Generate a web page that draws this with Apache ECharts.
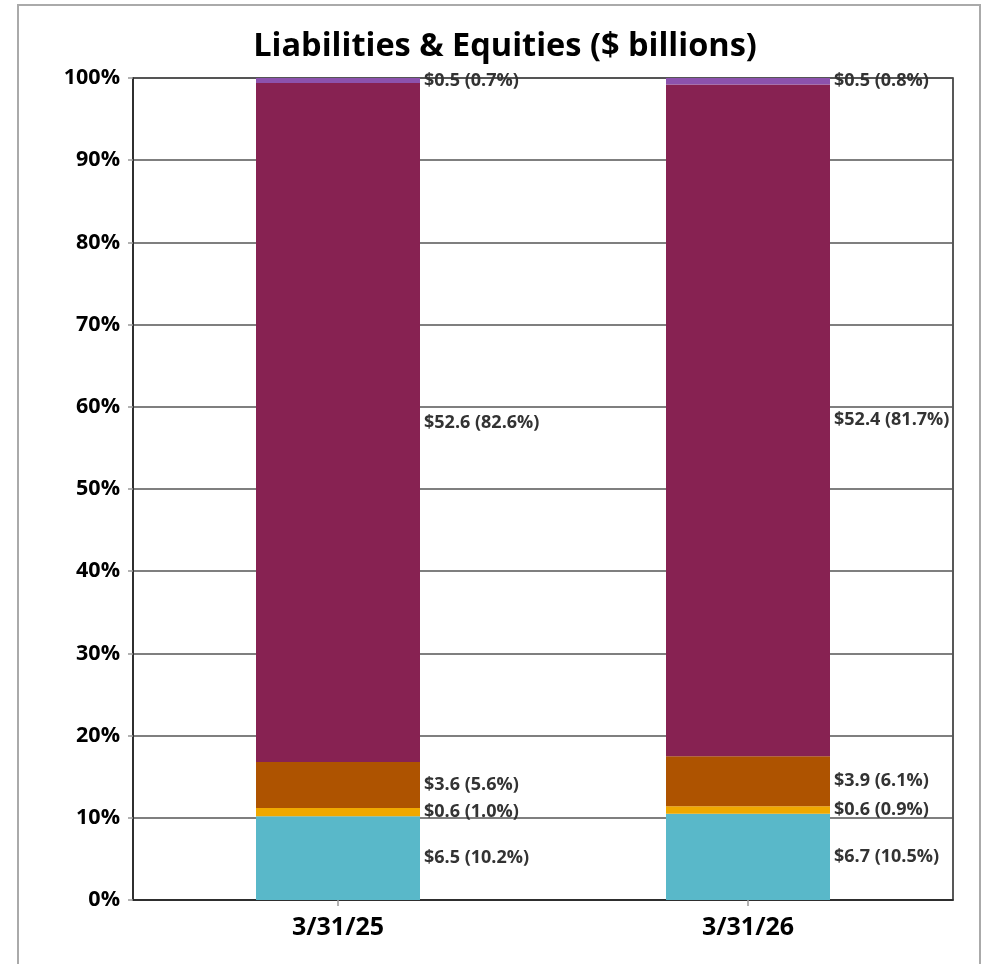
<!DOCTYPE html>
<html>
<head>
<meta charset="utf-8">
<script src="https://cdn.jsdelivr.net/npm/echarts@6/dist/echarts.min.js"></script>
<style>
  html, body { margin: 0; padding: 0; background: #fff; }
  #chart { width: 987px; height: 964px; }
</style>
</head>
<body>
<div id="chart"></div>
<script>
// categories (balance sheet dates)
const categories = ['3/31/25', '3/31/26'];
const yTicks = [0, 10, 20, 30, 40, 50, 60, 70, 80, 90, 100];

// $ billions per segment, bottom to top
const amtTeal   = [6.5, 6.7];
const amtYellow = [0.6, 0.6];
const amtOrange = [3.6, 3.9];
const amtMaroon = [52.6, 52.4];
const amtPurple = [0.5, 0.5];

// share of total (%), bottom to top
const pctTeal   = [10.2, 10.5];
const pctYellow = [1.0, 0.9];
const pctOrange = [5.6, 6.1];
const pctMaroon = [82.6, 81.7];
const pctPurple = [0.7, 0.8];

const colors = ['#59b8c9', '#f0a800', '#ae5300', '#872252', '#8c52ad'];

const layers = [
  { amt: amtTeal, pct: pctTeal },
  { amt: amtYellow, pct: pctYellow },
  { amt: amtOrange, pct: pctOrange },
  { amt: amtMaroon, pct: pctMaroon },
  { amt: amtPurple, pct: pctPurple },
];

const font = '"Open Sans", "Noto Sans", sans-serif';

const myChart = echarts.init(document.getElementById('chart'));

const series = layers.map((l, i) => ({
  type: 'bar',
  stack: 'total',
  barWidth: '40%',
  data: l.pct,
  itemStyle: { color: colors[i] },
  label: {
    show: true,
    position: 'right',
    distance: 4,
    color: '#333',
    fontFamily: font,
    fontWeight: 'bold',
    fontSize: 18,
    formatter: p => '$' + l.amt[p.dataIndex].toFixed(1) + ' (' + l.pct[p.dataIndex].toFixed(1) + '%)'
  },
  z: 3
}));

const option = {
  animation: false,
  backgroundColor: '#fff',
  title: {
    text: 'Liabilities & Equities ($ billions)',
    left: 500,
    textAlign: 'center',
    top: 25,
    textStyle: { fontFamily: font, fontWeight: 'bold', fontSize: 32.5, color: '#000' }
  },
  graphic: [{
    type: 'rect',
    shape: { x: 18, y: 5, width: 962, height: 975 },
    style: { fill: 'none', stroke: '#aaa', lineWidth: 2 },
    silent: true,
    z: -1
  }],
  grid: {
    left: 133, right: 34, top: 78, bottom: 64,
    show: true,
    borderColor: '#222',
    borderWidth: 1.5
  },
  xAxis: {
    type: 'category',
    data: categories,
    axisLine: { lineStyle: { color: '#222', width: 1.5 } },
    axisTick: { show: true, alignWithLabel: true, length: 6, lineStyle: { color: '#999', width: 1.5 } },
    axisLabel: { color: '#000', fontFamily: font, fontWeight: 'bold', fontSize: 25, margin: 15 }
  },
  yAxis: {
    type: 'value',
    min: yTicks[0],
    max: yTicks[yTicks.length - 1],
    interval: 10,
    axisLine: { show: true, lineStyle: { color: '#222', width: 1.5 } },
    axisTick: { show: true, length: 5, lineStyle: { color: '#999', width: 1.5 } },
    splitLine: { show: true, lineStyle: { color: '#555', width: 1.5 } },
    axisLabel: {
      color: '#000', fontFamily: font, fontWeight: 'bold', fontSize: 21.5, margin: 13,
      formatter: '{value}%'
    }
  },
  series: series
};

myChart.setOption(option);
</script>
</body>
</html>
